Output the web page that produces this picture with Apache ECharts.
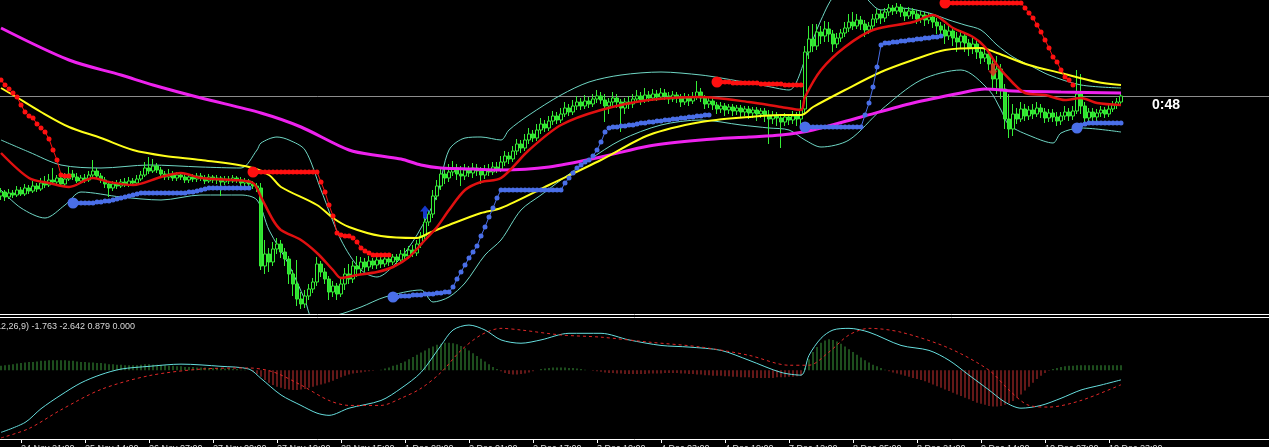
<!DOCTYPE html>
<html><head><meta charset="utf-8">
<script src="https://cdn.jsdelivr.net/npm/echarts@6/dist/echarts.min.js"></script>
<style>html,body{margin:0;padding:0;background:#000;overflow:hidden}#c{width:1269px;height:447px}</style>
</head><body><div id="c"></div>
<script>
// ---- DATA (price in points) ----
// candles: [open, close, low, high], one per hourly bar
const candles = [
[118,122,114,126],[122,117,113,124],[117,121,115,125],[121,119,116,124],[119,124,117,128],
[124,120,118,127],[120,126,118,130],[126,123,120,129],[123,128,121,133],[128,125,122,131],
[125,131,123,136],[131,129,126,138],[129,134,127,140],[134,132,129,146],[132,136,130,139],
[136,130,128,140],[130,135,127,141],[135,140,133,147],[140,137,134,144],[137,133,131,141],
[133,136,130,139],[136,134,131,140],[134,139,132,143],[139,143,136,154],[143,138,135,146],
[138,134,131,141],[134,130,126,137],[130,126,117,133],[126,130,123,133],[130,128,125,134],
[128,132,126,135],[132,129,127,136],[129,133,127,137],[133,131,128,136],[131,135,129,139],
[135,139,133,143],[139,146,137,152],[146,143,140,157],[143,148,141,155],[148,144,141,151],
[144,140,137,147],[140,137,134,143],[137,140,134,145],[140,136,133,143],[136,139,133,142],
[139,137,134,142],[137,134,131,140],[134,137,131,140],[137,135,132,140],[135,138,132,141],
[138,136,133,141],[136,133,130,139],[133,137,131,140],[137,134,131,139],[134,136,130,139],
[136,132,118,138],[132,135,129,138],[135,133,130,138],[133,136,131,139],[136,134,131,138],
[134,131,128,137],[131,133,128,136],[133,130,127,135],[130,128,125,133],[128,126,122,131],
[126,48,44,131],[48,60,40,74],[60,52,42,66],[52,65,48,72],[65,70,60,76],
[70,62,56,74],[62,55,48,66],[55,40,30,58],[40,30,18,44],[30,15,8,54],
[15,10,5,22],[10,18,6,24],[18,25,14,30],[25,32,21,36],[32,50,28,57],
[50,42,37,53],[42,35,30,46],[35,22,14,38],[22,28,17,33],[28,20,14,31],
[20,30,17,35],[30,40,24,46],[40,35,30,50],[35,48,31,53],[48,45,37,58],
[45,52,40,57],[52,47,42,56],[47,53,43,58],[53,49,45,56],[49,54,45,57],
[54,50,46,57],[50,55,47,58],[55,52,48,58],[52,57,49,60],[57,54,50,60],
[54,60,51,64],[60,58,54,66],[58,64,55,68],[64,61,57,69],[61,70,58,74],
[70,78,66,82],[78,92,75,97],[92,100,88,104],[100,118,96,124],[118,128,114,134],
[128,140,124,146],[140,136,130,147],[136,142,132,150],[142,146,138,153],[146,140,134,150],
[140,138,128,148],[138,144,134,150],[144,141,137,148],[141,146,136,151],[146,143,138,150],
[143,139,130,147],[139,144,135,149],[144,142,138,150],[142,147,139,152],[147,145,141,152],
[145,152,142,158],[152,158,148,163],[158,155,150,162],[155,163,152,168],[163,170,159,175],
[170,166,161,174],[166,174,163,180],[174,180,170,186],[180,176,172,184],[176,184,173,190],
[184,190,180,196],[190,186,182,194],[186,193,183,198],[193,198,189,203],[198,194,190,202],
[194,200,191,206],[200,206,197,212],[206,202,198,210],[202,208,199,214],[208,212,204,218],
[212,208,204,216],[208,213,205,219],[213,210,206,217],[210,215,207,220],[215,218,211,224],
[218,214,210,222],[214,208,192,220],[208,212,200,216],[212,216,208,222],[216,212,206,220],
[212,206,182,215],[206,212,200,216],[212,210,205,218],[210,215,206,220],[215,218,211,224],
[218,214,209,222],[214,219,211,226],[219,216,212,223],[216,220,213,225],[220,217,213,224],
[217,221,214,226],[221,218,214,225],[218,215,210,222],[215,219,212,223],[219,216,211,222],
[216,212,207,220],[212,216,209,221],[216,213,208,220],[213,217,210,222],[217,222,214,233],
[222,216,212,226],[216,210,205,219],[210,213,206,217],[213,209,204,216],[209,205,200,212],
[205,208,201,212],[208,204,198,211],[204,207,200,210],[207,203,198,210],[203,206,199,209],
[206,202,197,209],[202,205,198,208],[205,201,195,208],[201,204,196,207],[204,200,193,207],
[200,203,196,206],[203,199,192,206],[199,195,170,204],[195,199,190,203],[199,196,188,202],
[196,192,166,200],[192,197,188,201],[197,194,189,200],[194,198,190,203],[198,195,188,202],
[195,205,186,214],[205,262,200,268],[262,275,255,288],[275,268,262,290],[268,282,264,290],
[282,278,270,288],[278,285,272,293],[285,280,272,292],[280,270,262,284],[270,276,266,281],
[276,281,272,285],[281,286,277,292],[286,292,282,300],[292,288,284,302],[288,294,285,300],
[294,290,284,298],[290,284,277,294],[284,288,280,292],[288,295,284,300],[295,300,291,305],
[300,296,290,304],[296,302,292,306],[302,306,298,310],[306,303,299,309],[303,307,300,311],
[307,302,297,310],[302,298,293,306],[298,303,295,307],[303,300,295,306],[300,295,290,304],
[295,299,291,303],[299,294,288,302],[294,297,290,301],[297,292,286,300],[292,288,280,296],
[288,284,276,292],[284,278,270,290],[278,283,274,288],[283,276,268,287],[276,272,262,282],
[272,278,266,284],[278,271,262,282],[271,266,258,275],[266,270,260,276],[270,262,255,274],
[262,256,250,266],[256,260,252,265],[260,250,244,263],[250,235,226,254],[235,245,220,258],
[245,225,215,250],[225,195,185,230],[195,185,176,220],[185,200,178,210],[200,195,190,206],
[195,205,192,212],[205,198,193,210],[198,204,194,208],[204,200,195,210],[200,206,197,212],
[206,202,196,210],[202,196,191,206],[196,201,192,205],[201,197,192,205],[197,193,188,202],
[193,198,189,202],[198,202,194,208],[202,198,193,206],[198,203,194,208],[203,220,200,244],
[220,208,200,240],[208,196,190,212],[196,202,192,206],[202,197,193,206],[197,201,193,205],
[201,204,197,208],[204,200,196,207],[200,205,197,209],[205,209,202,213],[209,212,205,216],
[212,218,208,222]
];

// moving averages / bands: [barIndex, value]
const maMagenta = [[0,286],[17,254],[30,239],[38,229],[50,216],[65,201],[75,187],[87,164],[95,158],[100,155],[105,149],[110,146],[118,145],[125,144],[137,147],[150,157],[162,168],[175,174],[187,177],[195,179],[203,184],[215,197],[228,211],[240,221],[246,225],[253,223],[265,222],[280,221]];
const maYellow = [[0,226],[3,219],[10,202],[17,187],[25,176],[33,164],[41,158],[50,154],[62,147],[67,139],[70,127],[79,109],[83,96],[87,87],[95,78],[104,76],[107,81],[112,89],[120,101],[125,106],[137,129],[150,154],[162,179],[175,192],[187,197],[195,199],[200,199],[203,207],[211,224],[220,242],[228,254],[236,264],[245,266],[249,261],[257,249],[265,241],[274,232],[280,229]];
const maRed = [[0,161],[7,136],[12,131],[17,127],[23,136],[27,132],[33,129],[40,137],[45,141],[50,136],[58,134],[63,131],[65,117],[68,94],[70,84],[75,74],[79,61],[83,44],[85,36],[89,39],[94,42],[98,47],[102,57],[106,74],[109,87],[112,104],[116,124],[120,132],[125,136],[132,164],[140,189],[150,204],[162,214],[175,217],[187,212],[195,207],[200,204],[201,217],[205,244],[211,267],[218,284],[228,292],[233,299],[238,286],[243,277],[246,267],[249,249],[253,231],[256,221],[261,219],[266,214],[270,216],[274,211],[280,209]];
const bandUpper = [[0,174],[7,162],[15,149],[25,146],[37,149],[50,147],[60,146],[64,164],[65,171],[69,177],[72,174],[76,164],[80,124],[85,74],[90,44],[94,37],[99,52],[104,79],[109,119],[112,164],[116,176],[120,177],[125,174],[127,184],[132,199],[140,219],[147,232],[155,239],[165,242],[175,239],[180,236],[190,229],[197,224],[201,254],[205,294],[209,320],[214,322],[220,304],[225,306],[232,301],[237,294],[241,289],[245,284],[249,269],[253,257],[258,247],[262,239],[270,229],[280,226]];
const bandLower = [[0,124],[5,106],[11,96],[16,109],[20,122],[30,117],[40,114],[50,119],[60,119],[64,114],[67,84],[72,49],[76,14],[78,-4],[84,-1],[90,7],[96,17],[105,24],[108,12],[112,17],[116,31],[121,59],[125,74],[130,104],[135,119],[140,134],[147,154],[155,174],[165,189],[175,194],[185,189],[192,186],[197,184],[201,174],[205,167],[212,174],[220,204],[230,234],[240,244],[247,224],[250,204],[252,189],[258,177],[263,171],[265,181],[270,186],[280,182]];

// trailing stop dots: segment start bar + values
const stopRedStarts = [0, 63, 179, 236];
const stopRedValues = [
 [234,229,225,221,217,209,202,198,196,190,186,182,175,164,154,139,138,138],
 [142,142,142,142,142,142,142,142,142,142,142,142,142,142,142,142,142,132,122,109,98,81,79,78,78,76,72,66,63,61,59,59,59,59,59],
 [232,232,232,232,231,231,231,231,231,231,231,230,230,230,230,230,230,229,229,229,229,229],
 [311,311,311,311,311,311,311,311,311,311,311,311,311,311,311,311,311,311,311,311,306,301,296,289,282,274,266,257,252,244,237,234,229]
];
const stopBlueStarts = [18, 98, 201, 269];
const stopBlueValues = [
 [111,111,111,111,111,111,112,112,113,113,114,115,116,117,118,119,120,121,121,121,121,121,121,121,121,121,121,121,121,122,122,123,124,125,126,126,126,126,126,126,126,126,126,126,126],
 [17,17,18,18,18,19,19,19,20,20,20,21,21,22,22,27,35,42,49,56,62,68,78,87,97,106,116,124,124,124,124,124,124,124,124,124,124,124,124,124,124,124,124,131,136,141,146,149,152,154,158,164,172,182,186,187,187,188,188,189,189,190,191,191,192,192,193,193,194,194,195,195,196,196,197,197,198,198,199,199],
 [187,187,187,187,187,187,187,187,187,187,187,187,187,187,187,199,211,227,247,269,271,271,272,272,273,273,274,274,275,275,276,276,277,277,278],
 [186,189,190,191,191,191,191,191,191,191,191,191]
];
const arrowsUp = [[106,102]];
const arrowsDown = [[248,244]];

// MACD (12,26,9)
const macdMain = [[0,-11.3],[6,-9.5],[10,-7],[15,-4.5],[20,-2.3],[25,-0.8],[30,0.2],[37,0.7],[45,1.1],[55,0.7],[62,0.2],[65,-1.5],[70,-4.5],[75,-6.4],[79,-7.8],[82,-8.2],[87,-6.9],[95,-5.5],[100,-3.3],[105,-0.4],[110,4.5],[113,7.3],[117,8.2],[121,7.3],[125,5.5],[130,4.9],[135,5.5],[142,6.7],[150,6.7],[157,5.5],[165,4.5],[172,4.2],[180,3.6],[187,1.8],[195,-0.4],[200,-0.9],[202,2.7],[205,5.8],[208,7.3],[212,7.6],[217,6.9],[225,4.5],[232,3.6],[237,1.8],[242,-0.9],[247,-3.6],[251,-5.8],[255,-6.9],[260,-6.4],[265,-5.1],[270,-3.6],[275,-2.7],[280,-1.763]];
const macdSignal = [[0,-12.3],[7,-10.6],[15,-7.2],[25,-3.5],[37,-1],[50,0.2],[62,0.4],[68,-0.3],[75,-2.7],[82,-5.5],[87,-6.4],[95,-6.4],[100,-5.1],[105,-3.3],[110,-0.4],[115,3.6],[120,6.4],[125,7.6],[130,7.3],[140,6.4],[150,6],[162,5.1],[175,4.2],[187,2.7],[197,0.9],[202,0.9],[207,3.3],[212,6.4],[217,7.6],[225,6.9],[237,4],[247,0],[252,-3.6],[257,-6.4],[262,-6.7],[270,-5.5],[280,-2.642]];
const macdHist = [
0.8,0.9,1,1.1,1.2,1.3,1.4,1.5,1.5,1.6, 1.7,1.7,1.8,1.8,1.8,1.8,1.8,1.7,1.7,1.6,
1.5,1.5,1.4,1.4,1.3,1.3,1.2,1.1,1.1,1, 1,0.9,0.9,0.9,0.9,1,1.1,1.1,1,1,
0.9,0.9,0.8,0.8,0.7,0.7,0.6,0.6,0.6,0.5, 0.5,0.5,0.4,0.4,0.4,0.3,0.3,0.3,0.2,0.2,
0.1,0.1,0,-0.3,-0.7,-1.2,-1.8,-2.3,-2.7,-3, -3.2,-3.4,-3.5,-3.6,-3.6,-3.5,-3.4,-3.2,-3,-2.8,
-2.6,-2.4,-2.2,-1.9,-1.6,-1.3,-1,-0.8,-0.6,-0.5, -0.4,-0.3,-0.2,-0.1,0,0.1,0.3,0.5,0.8,1,
1.3,1.6,2,2.4,2.8,3.2,3.6,4,4.3,4.6, 4.8,5,5,4.9,4.7,4.4,4,3.6,3.1,2.6,
2.1,1.6,1.1,0.6,0.2,-0.2,-0.5,-0.7,-0.8,-0.8, -0.7,-0.6,-0.4,-0.2,0,0.2,0.3,0.4,0.5,0.5,
0.5,0.5,0.4,0.4,0.3,0.2,0.1,0,-0.1,-0.2, -0.3,-0.4,-0.5,-0.5,-0.6,-0.6,-0.7,-0.7,-0.7,-0.7,
-0.7,-0.7,-0.6,-0.6,-0.6,-0.6,-0.5,-0.5,-0.5,-0.5, -0.6,-0.6,-0.7,-0.7,-0.8,-0.8,-0.9,-0.9,-1,-1,
-1,-1.1,-1.1,-1.2,-1.2,-1.3,-1.3,-1.3,-1.4,-1.4, -1.4,-1.4,-1.4,-1.4,-1.3,-1.3,-1.3,-1.2,-1.2,-1.1,
-1,0.5,2,3.3,4.2,5,5.4,5.6,5.5,5.2, 4.8,4.3,3.8,3.3,2.8,2.3,1.8,1.4,1,0.7,
0.4,0.1,-0.2,-0.4,-0.6,-0.8,-1,-1.2,-1.4,-1.6, -1.8,-2,-2.3,-2.6,-2.9,-3.2,-3.5,-3.8,-4.1,-4.4,
-4.7,-5,-5.3,-5.6,-5.9,-6.1,-6.3,-6.5,-6.6,-6.6, -6.5,-6.3,-6,-5.6,-5,-4.4,-3.7,-3,-2.3,-1.6,
-1,-0.5,-0.1,0.2,0.4,0.6,0.7,0.8,0.8,0.9, 0.9,0.9,0.9,0.9,0.9,0.9,0.9,0.9,0.9,0.9,0.88
];
const macdLabel = '(12,26,9) -1.763 -2.642 0.879 0.000';

// time axis labels, one every 16 bars starting at bar 5
const tickStart = 5, tickStep = 16;
const tickLabels = ['24 Nov 21:00','25 Nov 14:00','26 Nov 07:00','27 Nov 00:00','27 Nov 19:00','28 Nov 15:00','1 Dec 08:00','2 Dec 01:00','2 Dec 17:00','3 Dec 10:00','4 Dec 03:00','4 Dec 19:00','7 Dec 12:00','8 Dec 05:00','8 Dec 21:00','9 Dec 14:00','10 Dec 07:00','10 Dec 23:00'];
const timerText = '0:48';

// ---- CHART ----
const W = 1269;
const categories = candles.map((_, i) => i);
const chart = echarts.init(document.getElementById('c'), null, {renderer: 'canvas'});
const isTick = (i) => i >= tickStart && (i - tickStart) % tickStep === 0;

const series = [];
const lineBase = {showSymbol: false, smooth: 0.3};
series.push(Object.assign({type: 'line', data: bandUpper, lineStyle: {color: '#6fd6c4', width: 1}, z: 2}, lineBase));
series.push(Object.assign({type: 'line', data: bandLower, lineStyle: {color: '#6fd6c4', width: 1}, z: 2}, lineBase));
series.push({type: 'candlestick', data: candles, barWidth: 3, z: 3,
  itemStyle: {color: '#000000', color0: '#2fe02f', borderColor: '#36ee36', borderColor0: '#36ee36', borderWidth: 1}});
series.push(Object.assign({type: 'line', data: maMagenta, lineStyle: {color: '#ee22ee', width: 3}, z: 4}, lineBase));
series.push(Object.assign({type: 'line', data: maYellow, lineStyle: {color: '#ffff1a', width: 2}, z: 5}, lineBase));
series.push(Object.assign({type: 'line', data: maRed, lineStyle: {color: '#e01010', width: 2.5}, z: 6}, lineBase));
function stopSeries(starts, values, color) {
  starts.forEach((s, k) => {
    series.push({type: 'line', data: values[k].map((v, j) => [s + j, v]), symbol: 'circle',
      symbolSize: (val, p) => (p.dataIndex === 0 && s > 0) ? 11 : 5,
      showAllSymbol: true, lineStyle: {color: color, width: 1}, itemStyle: {color: color}, z: 7});
  });
}
stopSeries(stopRedStarts, stopRedValues, '#ff1010');
stopSeries(stopBlueStarts, stopBlueValues, '#4a6fe8');
const upPath = 'path://M5,0 L10,6 L7,6 L7,13 L3,13 L3,6 L0,6 Z';
const downPath = 'path://M3,0 L7,0 L7,7 L10,7 L5,13 L0,7 L3,7 Z';
series.push({type: 'scatter', data: arrowsUp, symbol: upPath, symbolSize: [10, 13], itemStyle: {color: '#1c46ff'}, z: 8});
series.push({type: 'scatter', data: arrowsDown, symbol: downPath, symbolSize: [10, 13], itemStyle: {color: '#ee1c1c'}, z: 8});
// MACD pane
series.push({type: 'bar', xAxisIndex: 1, yAxisIndex: 1, data: macdHist, barWidth: 1,
  itemStyle: {color: (p) => p.value >= 0 ? '#3b9a3b' : '#c83030'}});
series.push(Object.assign({type: 'line', xAxisIndex: 1, yAxisIndex: 1, data: macdMain, lineStyle: {color: '#66dede', width: 1}, z: 4}, lineBase));
series.push(Object.assign({type: 'line', xAxisIndex: 1, yAxisIndex: 1, data: macdSignal, lineStyle: {color: '#e02828', width: 1, type: [3, 3]}, z: 4}, lineBase));

chart.setOption({
  backgroundColor: '#000000',
  animation: false,
  grid: [
    {left: -1, top: 0, width: 1124, height: 314, outerBoundsMode: 'none', containLabel: false},
    {left: -1, top: 319, width: 1124, height: 120, outerBoundsMode: 'none', containLabel: false}
  ],
  xAxis: [
    {type: 'category', gridIndex: 0, data: categories, show: false, boundaryGap: true},
    {type: 'category', gridIndex: 1, data: categories, boundaryGap: true, position: 'bottom',
      axisLine: {show: false, onZero: false},
      axisTick: {show: true, alignWithLabel: true, interval: isTick, length: 4, inside: false, lineStyle: {color: '#ffffff', width: 1}},
      axisLabel: {show: true, interval: isTick, color: '#dcdcdc', fontSize: 9, fontFamily: 'Liberation Sans', align: 'left', margin: 5,
        hideOverlap: false, formatter: (v, i) => tickLabels[(i - tickStart) / tickStep] || ''},
      splitLine: {show: false}}
  ],
  yAxis: [
    {type: 'value', gridIndex: 0, min: 0, max: 314, show: false},
    {type: 'value', gridIndex: 1, min: -12.5, max: 9.3, show: false}
  ],
  series: series
});

const lastClose = candles[candles.length - 1][1];
const bidY = Math.round(chart.convertToPixel({yAxisIndex: 0}, lastClose)) + 0.5;
chart.setOption({
  graphic: [
    {type: 'line', shape: {x1: 0, y1: bidY, x2: W, y2: bidY}, style: {stroke: '#8c8c8c', lineWidth: 1}, z: 1},
    {type: 'line', shape: {x1: 0, y1: 314.5, x2: W, y2: 314.5}, style: {stroke: '#ffffff', lineWidth: 1}, z: 20},
    {type: 'line', shape: {x1: 0, y1: 317.5, x2: W, y2: 317.5}, style: {stroke: '#ffffff', lineWidth: 1}, z: 20},
    {type: 'line', shape: {x1: 0, y1: 439.5, x2: W, y2: 439.5}, style: {stroke: '#ffffff', lineWidth: 1}, z: 20},
    {type: 'text', x: -7, y: 322, style: {text: macdLabel, fill: '#d8d8d8', font: '9px "Liberation Sans"'}, z: 20},
    {type: 'text', x: 1152, y: 98, style: {text: timerText, fill: '#ffffff', font: 'bold 14px "Liberation Sans"'}, z: 20}
  ]
});
</script></body></html>
